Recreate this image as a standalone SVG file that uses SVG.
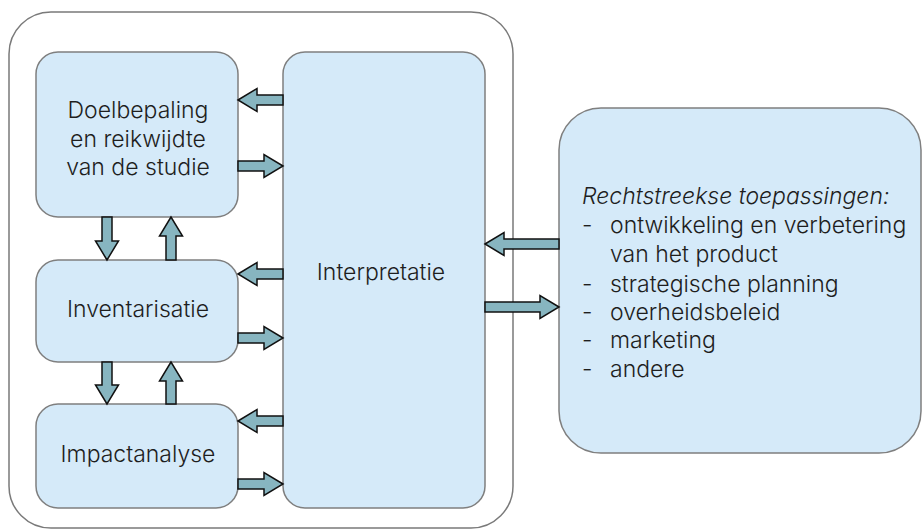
<svg xmlns="http://www.w3.org/2000/svg" width="923" height="531" viewBox="0 0 923 531">
  <defs>
    <style>
      .frame { fill: #ffffff; stroke: #7a7a7a; stroke-width: 1.5; }
      .box { fill: #d5eaf9; stroke: #7f7f7f; stroke-width: 1.5; }
      .arrow { fill: #87b5c0; stroke: #111111; stroke-width: 1.5; stroke-linejoin: miter; }
      .label { font-family: Inter, "Liberation Sans", Arial, sans-serif; font-weight: 300; font-size: 23px; fill: #1e1e1e; }
      .mid { text-anchor: middle; }
      .ital { font-style: italic; }
    </style>
  </defs>

  <!-- outer frame around the LCA phases -->
  <rect class="frame" x="9" y="12" width="504" height="516" rx="42" ry="42"/>

  <g id="doelbepaling">
    <rect class="box" x="36" y="52" width="202" height="165" rx="22" ry="22"/>
    <text class="label mid" x="138" y="118">Doelbepaling</text>
    <text class="label mid" x="138" y="147">en reikwijdte</text>
    <text class="label mid" x="138" y="175">van de studie</text>
  </g>

  <g id="inventarisatie">
    <rect class="box" x="36" y="260" width="202" height="102" rx="22" ry="22"/>
    <text class="label mid" x="138" y="317">Inventarisatie</text>
  </g>

  <g id="impactanalyse">
    <rect class="box" x="36" y="404" width="202" height="104" rx="22" ry="22"/>
    <text class="label mid" x="138" y="462">Impactanalyse</text>
  </g>

  <g id="interpretatie">
    <rect class="box" x="283" y="52" width="202" height="456" rx="22" ry="22"/>
    <text class="label mid" x="381" y="280">Interpretatie</text>
  </g>

  <g id="toepassingen">
    <rect class="box" x="559" y="108" width="362" height="345" rx="42" ry="42"/>
    <text class="label ital" x="582" y="204">Rechtstreekse toepassingen:</text>
    <text class="label" x="582" y="233">-</text>
    <text class="label" x="610" y="233">ontwikkeling en verbetering</text>
    <text class="label" x="610" y="262">van het product</text>
    <text class="label" x="582" y="292">-</text>
    <text class="label" x="610" y="292">strategische planning</text>
    <text class="label" x="582" y="320">-</text>
    <text class="label" x="610" y="320">overheidsbeleid</text>
    <text class="label" x="582" y="348">-</text>
    <text class="label" x="610" y="348">marketing</text>
    <text class="label" x="582" y="377">-</text>
    <text class="label" x="610" y="377">andere</text>
  </g>

  <g id="connectors">
    <!-- interpretatie <-> doelbepaling -->
    <polygon class="arrow" points="238,100 257,88.5 257,95 283,95 283,105 257,105 257,111.5"/>
    <polygon class="arrow" points="283,166 264,154.5 264,161 238,161 238,171 264,171 264,177.5"/>
    <!-- interpretatie <-> inventarisatie -->
    <polygon class="arrow" points="238,274 257,262.5 257,269 283,269 283,279 257,279 257,285.5"/>
    <polygon class="arrow" points="283,338 264,326.5 264,333 238,333 238,343 264,343 264,349.5"/>
    <!-- interpretatie <-> impactanalyse -->
    <polygon class="arrow" points="238,421 257,409.5 257,416 283,416 283,426 257,426 257,432.5"/>
    <polygon class="arrow" points="283,484 264,472.5 264,479 238,479 238,489 264,489 264,495.5"/>
    <!-- doelbepaling <-> inventarisatie -->
    <polygon class="arrow" points="107,260 95.5,241 102,241 102,217 112,217 112,241 118.5,241"/>
    <polygon class="arrow" points="171,217 159.5,236 166,236 166,260 176,260 176,236 182.5,236"/>
    <!-- inventarisatie <-> impactanalyse -->
    <polygon class="arrow" points="107,404 95.5,385 102,385 102,362 112,362 112,385 118.5,385"/>
    <polygon class="arrow" points="171,362 159.5,381 166,381 166,404 176,404 176,381 182.5,381"/>
    <!-- toepassingen <-> interpretatie -->
    <polygon class="arrow" points="485,244 504,232.5 504,239 559,239 559,249 504,249 504,255.5"/>
    <polygon class="arrow" points="559,307 540,295.5 540,302 485,302 485,312 540,312 540,318.5"/>
  </g>
</svg>
